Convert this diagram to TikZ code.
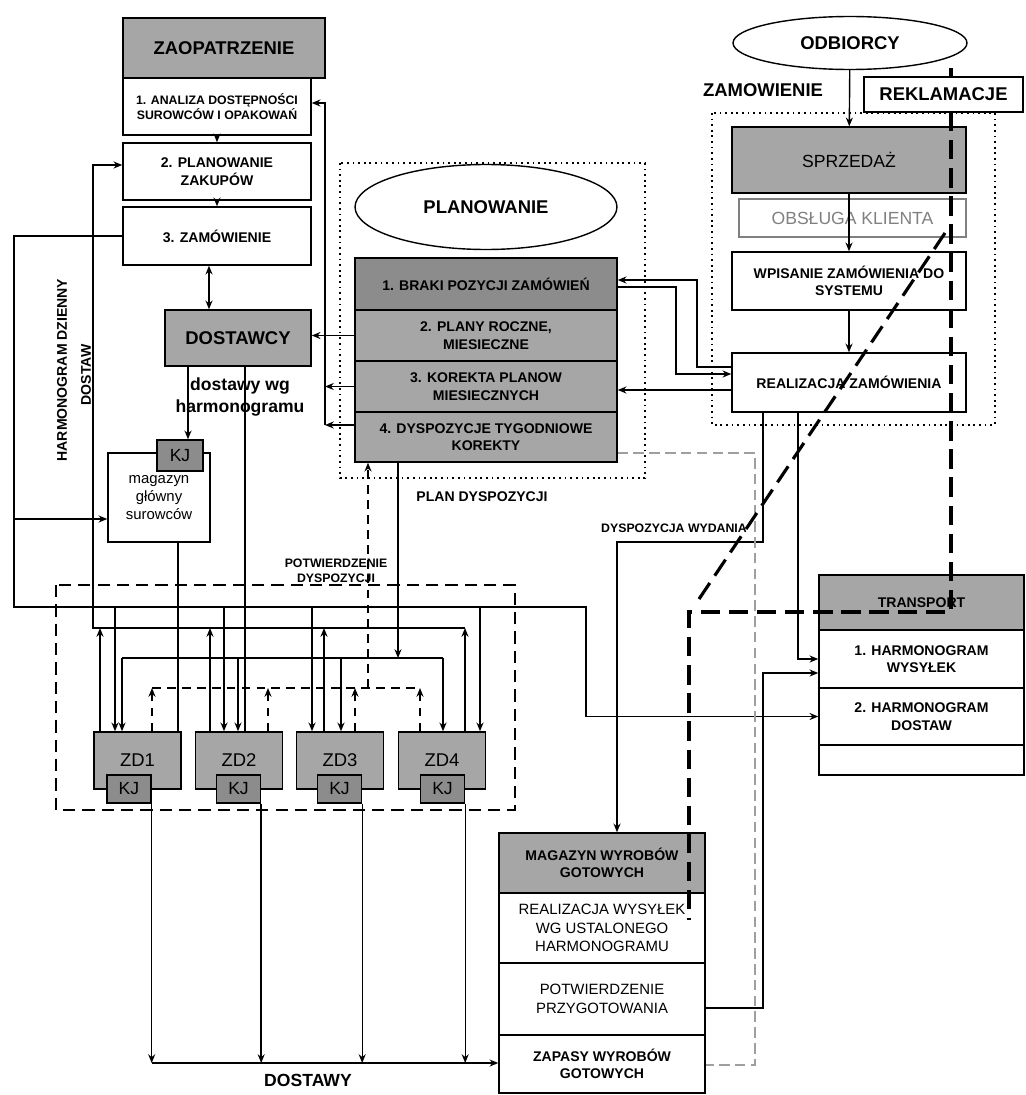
\documentclass[tikz,border=0pt]{standalone}
\usepackage{fontspec}
\setmainfont{Liberation Sans}
\usetikzlibrary{arrows.meta,shapes.geometric}

\begin{document}
\begin{tikzpicture}[x=0.02cm, y=-0.02cm, align=center, line width=0.8pt, >={Stealth[length=5pt,width=4pt]}]
  \tikzstyle{block} = [rectangle, draw, fill=white, inner sep=1pt]
  \tikzstyle{head} = [block, fill=gray!70]
  \tikzstyle{dark} = [block, fill=black!45]
  \tikzstyle{arrow} = [->]
  \tikzstyle{twoway} = [<->]
  \tikzstyle{confirm} = [dash pattern=on 5pt off 3.5pt, line width=0.9pt]
  \tikzstyle{claim} = [dash pattern=on 11pt off 5pt, line width=1.8pt]
  \tikzstyle{area} = [dash pattern=on 1pt off 2.2pt, line width=1.1pt]
  \tikzstyle{zdframe} = [dash pattern=on 7pt off 4pt, line width=1.1pt]
  \tikzstyle{gline} = [gray!75, dash pattern=on 6pt off 3pt, line width=0.9pt]
  \tikzstyle{fbig} = [font=\bfseries\fontsize{10.5}{12.5}\selectfont]
  \tikzstyle{fmid} = [font=\bfseries\fontsize{8}{10}\selectfont]
  \tikzstyle{fsmall} = [font=\bfseries\fontsize{7}{8.5}\selectfont]
  \tikzstyle{fplain} = [font=\fontsize{8.5}{10.5}\selectfont]
  \tikzstyle{flarge} = [font=\fontsize{10}{12}\selectfont]

  \useasboundingbox (0,0) rectangle (1025,1095);

  % zaopatrzenie
  \node[head, fbig, minimum width=4.04cm, minimum height=1.2cm] (zaop) at (224,48) {ZAOPATRZENIE};
  \node[block, fsmall, minimum width=3.76cm, minimum height=1.14cm] (anal) at (217,106.5) {1. ANALIZA DOSTĘPNOŚCI\\SUROWCÓW I OPAKOWAŃ};
  \node[block, fmid, minimum width=3.76cm, minimum height=1.14cm] (plzak) at (217,171.5) {2. PLANOWANIE\\ZAKUPÓW};
  \node[block, fmid, minimum width=3.76cm, minimum height=1.16cm] (zamzak) at (217,236) {3. ZAMÓWIENIE};
  \node[head, fbig, minimum width=2.92cm, minimum height=1.12cm] (dost) at (238,338) {DOSTAWCY};
  \node[font=\bfseries\fontsize{10}{12.5}\selectfont] (dostlbl) at (240,397) {dostawy wg\\harmonogramu};
  \node[block, fplain, minimum width=2.04cm, minimum height=1.78cm] (magsur) at (159,497.5) {magazyn\\główny\\surowców};
  \node[dark, flarge, minimum width=0.92cm, minimum height=0.62cm] (kjsur) at (180,455.5) {KJ};
  \node[fmid, rotate=90] (hdl1) at (62,370) {HARMONOGRAM DZIENNY};
  \node[fmid, rotate=90] (hdl2) at (86,375) {DOSTAW};

  % planowanie
  \draw[area] (340,163) rectangle (645,478);
  \node[ellipse, draw, fill=white, fbig, minimum width=5.24cm, minimum height=1.7cm] (plan) at (486,207) {PLANOWANIE};
  \node[dark, fmid, minimum width=5.24cm, minimum height=1.04cm] (p1) at (486,284) {1. BRAKI POZYCJI ZAMÓWIEŃ};
  \node[head, fmid, minimum width=5.24cm, minimum height=1.02cm] (p2) at (486,335.5) {2. PLANY ROCZNE,\\MIESIECZNE};
  \node[head, fmid, minimum width=5.24cm, minimum height=1.02cm] (p3) at (486,386.5) {3. KOREKTA PLANOW\\MIESIECZNYCH};
  \node[head, fmid, minimum width=5.24cm, minimum height=1.0cm] (p4) at (486,437) {4. DYSPOZYCJE TYGODNIOWE\\KOREKTY};
  \node[fmid] (pdlbl) at (482,497) {PLAN DYSPOZYCJI};

  % zamowienie
  \draw[area] (712,113) rectangle (995,425);
  \node[ellipse, draw, fill=white, fbig, minimum width=4.68cm, minimum height=1.06cm] (odb) at (850,43) {ODBIORCY};
  \node[fbig] (zamlbl) at (763,90) {ZAMOWIENIE};
  \node[head, flarge, minimum width=4.68cm, minimum height=1.32cm] (sprz) at (849,160) {SPRZEDAŻ};
  \node[block, draw=gray, text=gray, flarge, minimum width=4.54cm, minimum height=0.76cm] (obsl) at (852.5,218) {OBSŁUGA KLIENTA};
  \node[block, fmid, minimum width=4.68cm, minimum height=1.16cm] (wpis) at (849,281) {WPISANIE ZAMÓWIENIA DO\\SYSTEMU};
  \node[block, fmid, minimum width=4.68cm, minimum height=1.18cm] (real) at (849,382.5) {REALIZACJA ZAMÓWIENIA};

  % transport
  \node[head, fmid, minimum width=4.1cm, minimum height=1.1cm] (tr0) at (921.5,602.5) {TRANSPORT};
  \node[block, fmid, minimum width=4.1cm, minimum height=1.16cm] (tr1) at (921.5,659) {1. HARMONOGRAM\\WYSYŁEK};
  \node[block, fmid, minimum width=4.1cm, minimum height=1.14cm] (tr2) at (921.5,716.5) {2. HARMONOGRAM\\DOSTAW};
  \node[block, minimum width=4.1cm, minimum height=0.6cm] (tr3) at (921.5,760) {};

  % magazyn wyrobow
  \node[head, fmid, minimum width=4.12cm, minimum height=1.2cm] (mwg) at (602,863) {MAGAZYN WYROBÓW\\GOTOWYCH};
  \node[block, fplain, minimum width=4.12cm, minimum height=1.4cm] (wys) at (602,928) {REALIZACJA WYSYŁEK\\WG USTALONEGO\\HARMONOGRAMU};
  \node[block, fplain, minimum width=4.12cm, minimum height=1.44cm] (potw) at (602,999) {POTWIERDZENIE\\PRZYGOTOWANIA};
  \node[block, fmid, minimum width=4.12cm, minimum height=1.16cm] (zap) at (602,1064) {ZAPASY WYROBÓW\\GOTOWYCH};

  % zaklady
  \draw[zdframe] (56,585) rectangle (515,810);
  \foreach \i/\x/\k in {1/137.5/129, 2/239/238.5, 3/340/339.5, 4/442/442.5} {
    \node[head, font=\fontsize{10.5}{12}\selectfont, minimum width=1.74cm, minimum height=1.14cm] (zd\i) at (\x,760.5) {ZD\i};
    \node[dark, flarge, minimum width=0.88cm, minimum height=0.56cm] (kj\i) at (\k,789) {KJ};
  }
  \node[fsmall] (pdylbl) at (336,571) {POTWIERDZENIE\\DYSPOZYCJI};
  \node[fsmall] (dwlbl) at (674,528) {DYSPOZYCJA WYDANIA};
  \node[font=\bfseries\fontsize{10}{12}\selectfont] (dolbl) at (308,1080) {DOSTAWY};

  % zaopatrzenie flow
  \draw[arrow] (anal) -- (plzak);
  \draw[arrow] (plzak) -- (zamzak);
  \draw[twoway] ([xshift=-0.16cm]zamzak.south) -- ([xshift=-0.16cm]zamzak.south |- dost.north);
  \draw[arrow] (dost.south -| 188,0) -- (kjsur.north -| 188,0);
  \draw (dost.south -| 245,0) -- (zd2.north -| 245,0);
  \draw (magsur.south -| 178,0) -- (zd1.north -| 178,0);

  % harmonogram dzienny dostaw
  \draw[arrow] (zamzak.west) -- (14,236) -- (14,607) -- (586,607) |- (tr2.west);
  \draw[arrow] (14,519) -- (magsur.west |- 0,519);
  \foreach \x/\z in {115/1, 224/2, 312/3, 480/4}
    \draw[arrow] (\x,607) -- (zd\z.north -| \x,0);

  % meldunki do planowania zakupow
  \draw[arrow] (465,628) -- (93,628) -- (93,165) -- (plzak.west |- 0,165);
  \foreach \x/\z in {100/1, 210/2, 324/3, 465/4}
    \draw[arrow] (zd\z.north -| \x,0) -- (\x,628);

  % plan dyspozycji
  \draw[arrow] (p4.south -| 398,0) -- (398,658);
  \draw (122,658) -- (443,658);
  \foreach \x/\z in {122/1, 238/2, 341/3, 443/4}
    \draw[arrow] (\x,658) -- (zd\z.north -| \x,0);

  % potwierdzenie dyspozycji
  \draw[confirm] (152,688) -- (420,688);
  \foreach \x/\z in {152/1, 268/2, 355/3, 420/4}
    \draw[confirm, arrow] (zd\z.north -| \x,0) -- (\x,688);
  \draw[confirm, arrow] (368,688) -- (p4.south -| 368,0);

  % planowanie -> zaopatrzenie
  \draw[arrow] (p2.west) -- (dost.east |- p2.west);
  \draw[arrow] (p3.west) -- (325,386.5);
  \draw[arrow] (p4.west |- 0,425) -- (325,425);
  \draw[arrow] (325,425) -- (325,103) -- (anal.east |- 0,103);

  % zamowienie <-> planowanie
  \draw[arrow] (real.west |- 0,367) -- (697,367) |- (p1.east |- 0,280);
  \draw[arrow] (p1.east |- 0,287) -- (676,287) |- (real.west |- 0,374);
  \draw[arrow] (real.west |- 0,390) -- (p3.east |- 0,390);
  \draw[arrow] (odb) -- (sprz);
  \draw[arrow] (sprz) -- (wpis);
  \draw[arrow] (wpis) -- (real);

  % wydanie i transport
  \draw[arrow] (real.south -| 763,0) -- (763,542) -| (mwg.north -| 617,0);
  \draw[arrow] (real.south -| 798,0) |- (tr1.west |- 0,659);
  \draw[arrow] (potw.east |- 0,1008) -- (763,1008) |- (tr1.west |- 0,673);
  \draw[gline] (p4.east |- 0,453) -- (755,453) |- (zap.east |- 0,1065);

  % dostawy
  \foreach \i in {1,...,4}
    \draw[arrow] (kj\i.south east) -- (kj\i.south east |- 0,1063);
  \draw[arrow] (kj1.south east |- 0,1063) -- (zap.west |- 0,1063);

  % reklamacje
  \draw[claim] (951,68) -- (951,77);
  \draw[claim] (951,112) -- (951,612) -- (689,612) -- (689,920);
  \draw[claim] (945,233) -- (695,605);
  \node[block, fbig, minimum width=3.18cm, minimum height=0.7cm] (rekl) at (943.5,94.5) {REKLAMACJE};
\end{tikzpicture}
\end{document}
